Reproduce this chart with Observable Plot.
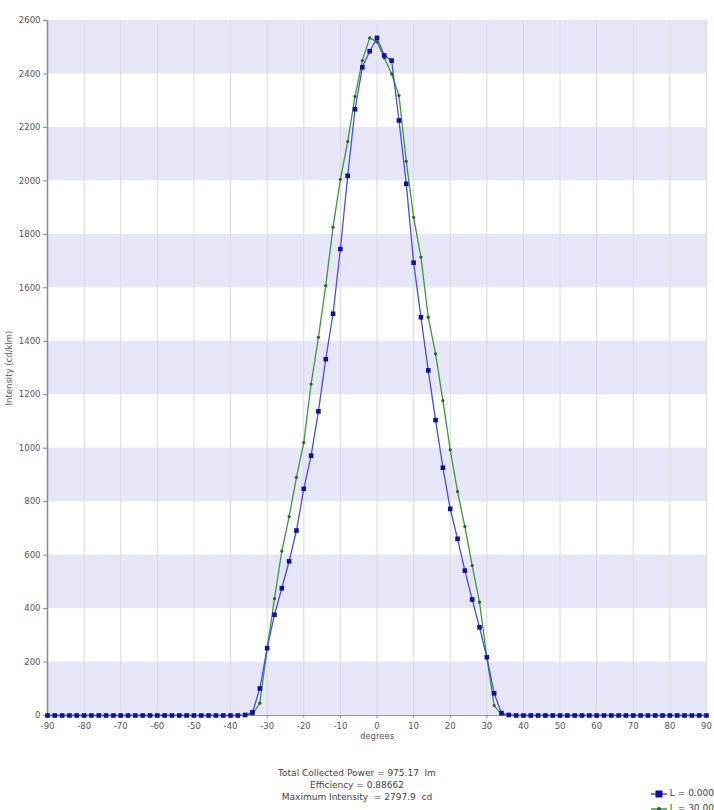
<!DOCTYPE html>
<html>
<head>
<meta charset="utf-8">
<script src="https://cdn.jsdelivr.net/npm/d3@7"></script>
<script src="https://cdn.jsdelivr.net/npm/@observablehq/plot@0.6"></script>
<style>
  html, body { margin: 0; padding: 0; background: #fff; }
  #wrap { position: relative; width: 714px; height: 810px; overflow: hidden; font-family: "DejaVu Sans", sans-serif; }
  #caption { position: absolute; left: 257px; width: 200px; top: 767px; text-align: center; font-size: 9px; line-height: 12px; color: #444; }
  .leg { position: absolute; left: 651px; font-size: 9px; line-height: 10px; color: #444; white-space: nowrap; }
  .leg svg { vertical-align: middle; }
</style>
</head>
<body>
<div id="wrap">
  <div id="chart"></div>
  <div id="caption">
    <div>Total Collected Power = 975.17&nbsp; lm</div>
    <div>Efficiency = 0.88662</div>
    <div>Maximum Intensity &nbsp;= 2797.9&nbsp; cd</div>
  </div>
  <div class="leg" style="top:788px"><svg width="16" height="10"><line x1="0" y1="5" x2="16" y2="5" stroke="#4b4bea" stroke-width="1.5"/><rect x="4.5" y="1.5" width="7" height="7" fill="#10109a"/></svg> L = 0.0000</div>
  <div class="leg" style="top:803px"><svg width="16" height="10"><line x1="0" y1="5" x2="16" y2="5" stroke="#3a9a3a" stroke-width="1.5"/><circle cx="8" cy="5" r="2" fill="#2d5e2d"/></svg> L = 30.000</div>
</div>
<script>
const degrees = [-90,-88,-86,-84,-82,-80,-78,-76,-74,-72,-70,-68,-66,-64,-62,-60,-58,-56,-54,-52,-50,-48,-46,-44,-42,-40,-38,
  -36,-34,-32,-30,-28,-26,-24,-22,-20,-18,-16,-14,-12,-10,-8,-6,-4,-2,0,2,4,6,8,10,12,14,16,18,20,22,24,26,28,30,32,34,36,
  38,40,42,44,46,48,50,52,54,56,58,60,62,64,66,68,70,72,74,76,78,80,82,84,86,88,90];

const intensityL0 = [0,0,0,0,0,0,0,0,0,0,0,0,0,0,0,0,0,0,0,0,0,0,0,0,0,0,0,
  2,12,101,252,377,476,577,692,848,972,1138,1333,1503,1745,2019,2268,2425,2485,2535,2469,2450,2226,1989,1694,1490,1291,1105,927,773,661,542,434,330,218,83,9,2,
  0,0,0,0,0,0,0,0,0,0,0,0,0,0,0,0,0,0,0,0,0,0,0,0,0,0,0];

const intensityL30 = [0,0,0,0,0,0,0,0,0,0,0,0,0,0,0,0,0,0,0,0,0,0,0,0,0,0,0,
  1,5,46,250,437,615,744,891,1021,1240,1415,1608,1827,2006,2147,2316,2450,2535,2520,2460,2400,2319,2073,1864,1715,1490,1353,1178,994,838,707,561,424,218,37,5,1,
  0,0,0,0,0,0,0,0,0,0,0,0,0,0,0,0,0,0,0,0,0,0,0,0,0,0,0];

const xTicks = [-90,-80,-70,-60,-50,-40,-30,-20,-10,0,10,20,30,40,50,60,70,80,90];
const yTicks = [0,200,400,600,800,1000,1200,1400,1600,1800,2000,2200,2400,2600];
const bandStarts = [0,400,800,1200,1600,2000,2400];
const bandSize = 200;

const blue = degrees.map((d, i) => ({deg: d, v: intensityL0[i]}));
const green = degrees.map((d, i) => ({deg: d, v: intensityL30[i]}));
const bands = bandStarts.map(b => ({y1: b, y2: b + bandSize}));
const fmt = d => String(d);

const chart = Plot.plot({
  width: 714,
  height: 810,
  marginTop: 20,
  marginLeft: 47,
  marginRight: 8,
  marginBottom: 95,
  style: {fontFamily: "DejaVu Sans, sans-serif", fontSize: "8.5px", color: "#444", background: "#fff"},
  x: {domain: [-90, 90], ticks: xTicks, label: null},
  y: {domain: [0, 2600], ticks: yTicks, label: null},
  marks: [
    Plot.rect(bands, {y1: "y1", y2: "y2", fill: "#e6e6f8"}),
    Plot.ruleX(xTicks, {stroke: "#dadada", strokeWidth: 1}),
    Plot.ruleY([0], {stroke: "#999"}),
    Plot.axisX({ticks: xTicks, tickFormat: fmt, tickSize: 3, tickPadding: 4, stroke: "#888", fill: "#555", label: "degrees", labelAnchor: "center", labelOffset: 23, labelArrow: "none"}),
    Plot.axisY({ticks: yTicks, tickFormat: fmt, tickSize: 4, tickPadding: 3, stroke: "#888", fill: "#555", label: "Intensity (cd/klm)", labelAnchor: "center", labelOffset: 42, labelArrow: "none"}),
    Plot.ruleX([-90], {stroke: "#8a8a8a", strokeWidth: 1.5}),
    Plot.line(green, {x: "deg", y: "v", stroke: "#3a9a3a", strokeWidth: 1.3}),
    Plot.line(blue, {x: "deg", y: "v", stroke: "#4b4bea", strokeWidth: 1.3}),
    Plot.dot(green, {x: "deg", y: "v", r: 1.6, fill: "#2d5e2d", stroke: null}),
    Plot.dot(blue, {x: "deg", y: "v", symbol: "square", r: 2.6, fill: "#10109a", stroke: null})
  ]
});
document.getElementById("chart").appendChild(chart);
</script>
</body>
</html>
